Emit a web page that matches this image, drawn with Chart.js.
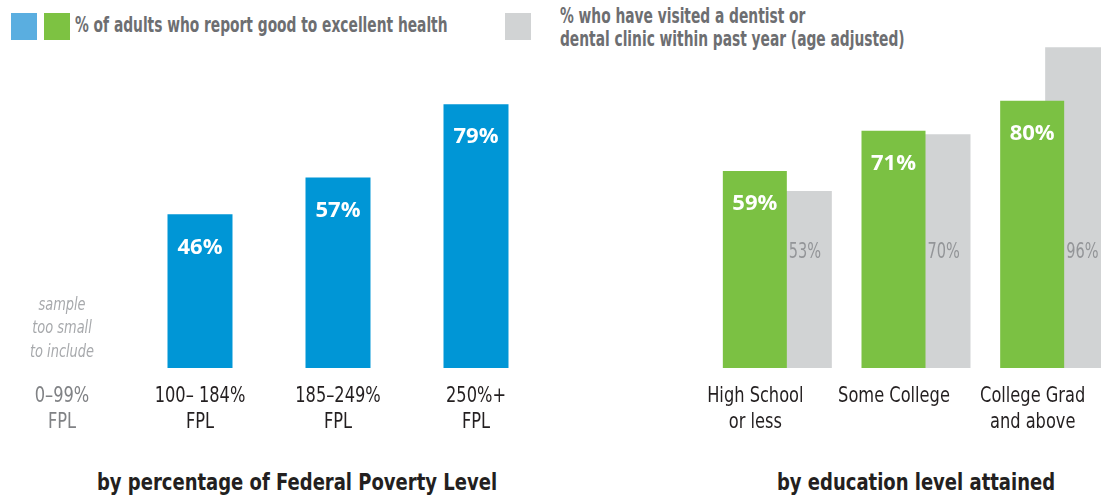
<!DOCTYPE html>
<html>
<head>
<meta charset="utf-8">
<script src="https://cdn.jsdelivr.net/npm/chart.js@4"></script>
<style>
    html, body { margin: 0; padding: 0; width: 1101px; height: 499px; overflow: hidden; background: #fff; }
    body { position: relative; }
    .box { position: absolute; top: 0; height: 438px; }
    #fplBox { left: -7px; width: 552px; }
    #eduBox { left: 708px; width: 416px; }
    .key { position: absolute; top: 13px; width: 26px; height: 27px; }
    .legtxt, .title { position: absolute; white-space: nowrap; font-family: "DejaVu Sans Condensed", sans-serif; font-weight: bold; transform-origin: 0 0; }
    .legtxt { color: #6d6e71; font-size: 21px; line-height: 22.5px; transform: scaleX(0.73); }
    .title { top: 469px; color: #231f20; font-size: 23px; line-height: 27px; transform: translateX(-50%) scaleX(0.87); transform-origin: 50% 0; }
</style>
</head>
<body>
<div class="key" style="left:11px;background:#5aaee0"></div>
<div class="key" style="left:44px;background:#7dc242"></div>
<div class="legtxt" style="left:75px;top:14px">% of adults who report good to excellent health</div>
<div class="key" style="left:505px;background:#d1d3d4"></div>
<div class="legtxt" style="left:560px;top:5px">% who have visited a dentist or<br>dental clinic within past year (age adjusted)</div>

<div class="box" id="fplBox"><canvas id="fplChart" width="552" height="438"></canvas></div>
<div class="box" id="eduBox"><canvas id="eduChart" width="416" height="438"></canvas></div>

<div class="title" style="left:297px">by percentage of Federal Poverty Level</div>
<div class="title" style="left:916px">by education level attained</div>

<script>
const fplLabels = [["0–99%", "FPL"], ["100– 184%", "FPL"], ["185–249%", "FPL"], ["250%+", "FPL"]];
const fplHealth = [null, 46, 57, 79];

const eduLabels = [["High School", "or less"], "Some College", ["College Grad", "and above"]];
const eduHealth = [59, 71, 80];
const eduDental = [53, 70, 96];

const sampleNote = ["sample", "too small", "to include"];

const BLUE = "#0096d6";
const GREEN = "#7bc143";
const GRAY = "#d1d3d4";
const COND = "'DejaVu Sans Condensed', sans-serif";

// draw text squeezed horizontally (the original uses a condensed face)
function narrowText(ctx, text, x, y, sx) {
    ctx.save();
    ctx.translate(x, y);
    ctx.scale(sx, 1);
    ctx.fillText(text, 0, 0);
    ctx.restore();
}

// percent labels: white inside the front bars, gray beside for the back bars
const valueLabels = {
    id: "valueLabels",
    afterDatasetsDraw(chart) {
        const ctx = chart.ctx;
        const yScale = chart.scales.y;
        chart.data.datasets.forEach((ds, i) => {
            const meta = chart.getDatasetMeta(i);
            meta.data.forEach((bar, j) => {
                const v = ds.data[j];
                if (v == null) return;
                ctx.save();
                ctx.textBaseline = "middle";
                if (ds.labelInside) {
                    ctx.font = "bold 22px 'Open Sans', sans-serif";
                    ctx.fillStyle = "#fff";
                    ctx.textAlign = "center";
                    ctx.fillText(v + "%", bar.x, bar.y + 33);
                } else {
                    const front = chart.getDatasetMeta(0).data[j];
                    ctx.font = "21px " + COND;
                    ctx.fillStyle = "#939598";
                    ctx.textAlign = "left";
                    narrowText(ctx, v + "%", front.x + front.width / 2 + 2, yScale.getPixelForValue(34.5), 0.77);
                }
                ctx.restore();
            });
        });
    },
};

// category names under the bars
const categoryText = {
    id: "categoryText",
    afterDraw(chart, args, opts) {
        const ctx = chart.ctx;
        const xScale = chart.scales.x;
        const bottom = chart.chartArea.bottom;
        ctx.save();
        ctx.font = "22px " + COND;
        ctx.textAlign = "center";
        ctx.textBaseline = "alphabetic";
        chart.data.labels.forEach((label, i) => {
            const x = xScale.getPixelForValue(i) + opts.shift;
            ctx.fillStyle = opts.colors[i];
            [].concat(label).forEach((line, k) => narrowText(ctx, line, x, bottom + 33.5 + k * 26, 0.82));
        });
        ctx.restore();
    },
};

// note for the empty first category
const emptyNote = {
    id: "emptyNote",
    afterDraw(chart) {
        const ctx = chart.ctx;
        const x = chart.scales.x.getPixelForValue(0);
        const bottom = chart.chartArea.bottom;
        ctx.save();
        ctx.font = "italic 18px " + COND;
        ctx.fillStyle = "#a7a9ac";
        ctx.textAlign = "center";
        ctx.textBaseline = "middle";
        sampleNote.forEach((line, k) => narrowText(ctx, line, x, bottom - 63 + k * 23.5, 0.8));
        ctx.restore();
    },
};

function baseOptions(textOpts) {
    return {
        responsive: false,
        animation: false,
        layout: { padding: { top: 34, left: 0, right: 0, bottom: 0 } },
        plugins: { legend: { display: false }, tooltip: { enabled: false }, categoryText: textOpts },
        scales: {
            x: {
                grid: { display: false, drawTicks: false },
                border: { display: false },
                ticks: { display: false },
                afterFit: (scale) => { scale.height = 70; },
            },
            y: { display: false, min: 0, max: 100 },
        },
    };
}

new Chart(document.getElementById("fplChart").getContext("2d"), {
    type: "bar",
    data: {
        labels: fplLabels,
        datasets: [
            { data: fplHealth, backgroundColor: BLUE, categoryPercentage: 1, barPercentage: 0.471, labelInside: true },
        ],
    },
    options: baseOptions({ shift: 0, colors: ["#808285", "#231f20", "#231f20", "#231f20"] }),
    plugins: [valueLabels, categoryText, emptyNote],
});

// green in front, gray behind and shifted right (bars overlap)
new Chart(document.getElementById("eduChart").getContext("2d"), {
    type: "bar",
    data: {
        labels: eduLabels,
        datasets: [
            { data: eduHealth, backgroundColor: GREEN, categoryPercentage: 0.649, barPercentage: 1.4222, labelInside: true },
            { data: eduDental, backgroundColor: GRAY, categoryPercentage: 0.649, barPercentage: 1.4222, labelInside: false },
        ],
    },
    options: baseOptions({ shift: -22, colors: ["#231f20", "#231f20", "#231f20"] }),
    plugins: [valueLabels, categoryText],
});
</script>
</body>
</html>
